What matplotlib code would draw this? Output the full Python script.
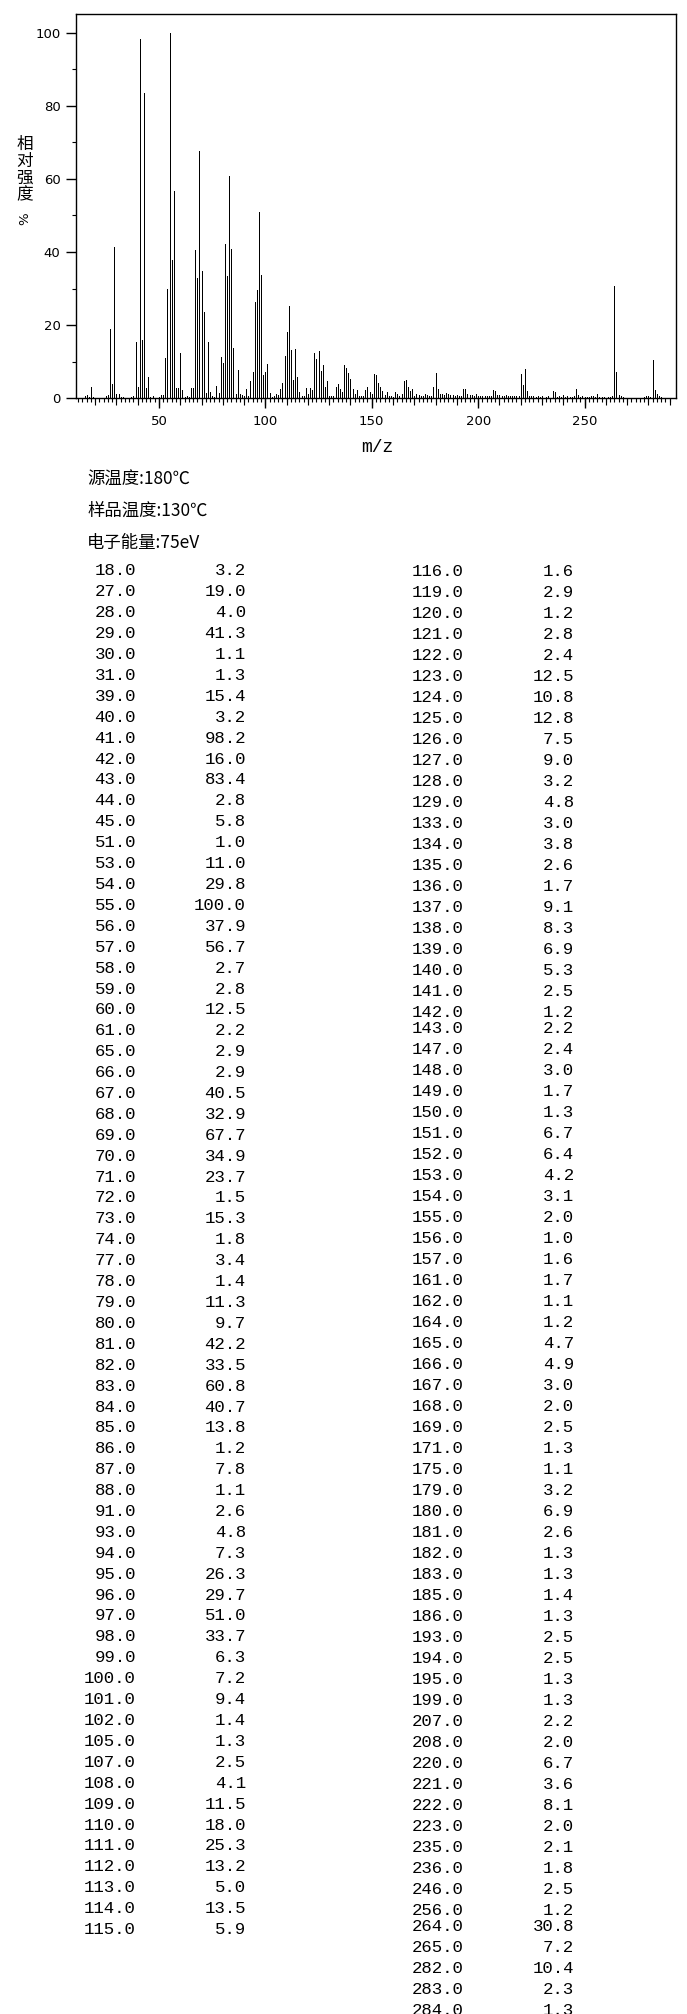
import matplotlib
matplotlib.use('Agg')
import matplotlib.pyplot as plt
import numpy as np

# peaks listed in the table (m/z, relative intensity %)
mz = [18, 27, 28, 29, 30, 31, 39, 40, 41, 42, 43, 44, 45, 51, 53, 54, 55, 56, 57, 58,
      59, 60, 61, 65, 66, 67, 68, 69, 70, 71, 72, 73, 74, 77, 78, 79, 80, 81, 82, 83,
      84, 85, 86, 87, 88, 91, 93, 94, 95, 96, 97, 98, 99, 100, 101, 102, 105, 107, 108, 109,
      110, 111, 112, 113, 114, 115,
      116, 119, 120, 121, 122, 123, 124, 125, 126, 127, 128, 129, 133, 134, 135, 136, 137, 138,
      139, 140, 141, 142, 143, 147, 148, 149, 150, 151, 152, 153, 154, 155, 156, 157, 161, 162,
      164, 165, 166, 167, 168, 169, 171, 175, 179, 180, 181, 182, 183, 185, 186, 193, 194, 195,
      199, 207, 208, 220, 221, 222, 223, 235, 236, 246, 256, 264, 265, 282, 283, 284]
inten = [3.2, 19.0, 4.0, 41.3, 1.1, 1.3, 15.4, 3.2, 98.2, 16.0, 83.4, 2.8, 5.8, 1.0, 11.0, 29.8, 100.0, 37.9, 56.7, 2.7,
         2.8, 12.5, 2.2, 2.9, 2.9, 40.5, 32.9, 67.7, 34.9, 23.7, 1.5, 15.3, 1.8, 3.4, 1.4, 11.3, 9.7, 42.2, 33.5, 60.8,
         40.7, 13.8, 1.2, 7.8, 1.1, 2.6, 4.8, 7.3, 26.3, 29.7, 51.0, 33.7, 6.3, 7.2, 9.4, 1.4, 1.3, 2.5, 4.1, 11.5,
         18.0, 25.3, 13.2, 5.0, 13.5, 5.9,
         1.6, 2.9, 1.2, 2.8, 2.4, 12.5, 10.8, 12.8, 7.5, 9.0, 3.2, 4.8, 3.0, 3.8, 2.6, 1.7, 9.1, 8.3,
         6.9, 5.3, 2.5, 1.2, 2.2, 2.4, 3.0, 1.7, 1.3, 6.7, 6.4, 4.2, 3.1, 2.0, 1.0, 1.6, 1.7, 1.1,
         1.2, 4.7, 4.9, 3.0, 2.0, 2.5, 1.3, 1.1, 3.2, 6.9, 2.6, 1.3, 1.3, 1.4, 1.3, 2.5, 2.5, 1.3,
         1.3, 2.2, 2.0, 6.7, 3.6, 8.1, 2.0, 2.1, 1.8, 2.5, 1.2, 30.8, 7.2, 10.4, 2.3, 1.3]
n_left = 66

# small peaks drawn on the plot but not in the table (estimated)
minor_mz = [15, 16, 17, 19, 20, 25, 26, 32, 33, 37, 38, 46, 47, 50, 52, 62, 63, 64, 75, 76,
            89, 90, 92, 103, 104, 106, 117, 118, 130, 131, 132, 144, 145, 146, 158, 159, 160, 163,
            170, 172, 173, 174, 176, 177, 178, 184, 187, 188, 189, 190, 191, 192, 196, 197, 198,
            200, 201, 202, 203, 204, 205, 206, 209, 210, 211, 212, 213, 214, 215, 216, 217, 218, 219,
            224, 225, 226, 227, 228, 229, 230, 232, 233, 237, 238, 239, 240, 241, 242, 243, 244, 245,
            247, 248, 249, 250, 251, 252, 253, 254, 255, 257, 258, 259, 261, 262, 263, 266, 267, 268,
            278, 279, 280, 281, 285, 286]
minor_int = [0.6, 0.9, 0.3, 0.3, 0.2, 0.6, 0.8, 0.4, 0.3, 0.4, 0.5, 0.3, 0.5, 0.3, 0.8, 0.4, 0.5, 0.4, 0.5, 0.3,
             0.9, 0.6, 0.6, 0.4, 0.5, 0.8, 0.5, 0.6, 0.7, 0.6, 0.5, 0.7, 0.6, 0.5, 0.6, 0.7, 0.4, 0.5,
             0.6, 0.9, 0.6, 0.5, 0.8, 0.6, 0.6, 0.9, 0.8, 0.9, 0.5, 0.8, 0.6, 0.5, 0.9, 0.8, 0.6,
             0.7, 0.6, 0.5, 0.7, 0.5, 0.6, 0.5, 0.8, 0.9, 0.7, 0.6, 0.8, 0.6, 0.5, 0.6, 0.5, 0.6, 0.5,
             0.6, 0.5, 0.6, 0.4, 0.5, 0.4, 0.5, 0.4, 0.5, 0.4, 0.5, 0.4, 0.8, 0.4, 0.5, 0.4, 0.4, 0.5,
             0.8, 0.4, 0.5, 0.4, 0.4, 0.3, 0.5, 0.6, 0.4, 0.4, 0.3, 0.4, 0.3, 0.4, 0.5, 0.8, 0.5, 0.3,
             0.4, 0.7, 0.5, 0.4, 0.5, 0.4]

header_lines = ['源温度:180℃', '样品温度:130℃', '电子能量:75eV']
y_major = [0, 20, 40, 60, 80, 100]
x_major = [50, 100, 150, 200, 250]

W, H = 687, 2014


def fx(x):
    return x / W


def fy(y):
    return 1 - y / H


fig = plt.figure(figsize=(W / 100, H / 100), dpi=100)
ax = fig.add_axes([fx(76), fy(398.3), 600 / W, 384 / H])

lw = 0.72
ax.vlines(minor_mz, 0, minor_int, color='black', linewidth=lw, antialiased=False)
ax.vlines(mz, 0, inten, color='black', linewidth=lw, antialiased=False)

ax.set_xlim(11, 293)
ax.set_ylim(0, 105)
for s in ax.spines.values():
    s.set_linewidth(1.0)

ax.set_yticks(y_major)
ax.set_yticks(np.arange(10, 100, 20), minor=True)
ax.set_xticks(x_major)
ax.set_xticks(np.arange(12, 292, 2), minor=True)
ax.tick_params(axis='both', which='major', direction='out', length=7.2, width=1.0,
               labelsize=9.5, pad=4)
ax.tick_params(axis='both', which='minor', direction='out', length=3.2, width=0.8)
ax.tick_params(axis='x', which='major', pad=5)

# medium ticks every 10 m/z
sec = ax.secondary_xaxis('bottom')
sec.set_xticks(np.arange(20, 291, 10))
sec.tick_params(direction='out', length=5, width=0.8, labelbottom=False)
sec.spines['bottom'].set_visible(False)

cjk = ['Noto Sans CJK SC', 'DejaVu Sans']
fig.text(fx(377), fy(447), 'm/z', family='Liberation Mono', fontsize=13,
         ha='center', va='center')
fig.text(fx(25), fy(170), '相\n对\n强\n度', family=cjk, fontsize=12,
         ha='center', va='center', linespacing=0.98)
fig.text(fx(25), fy(219), '%', family='DejaVu Sans', fontsize=9.5,
         ha='center', va='center', rotation=90)

for i, line in enumerate(header_lines):
    fig.text(fx(87), fy([480, 511, 543][i]), line, family=cjk, fontsize=12.5,
             ha='left', va='center')

mono = dict(family='Liberation Mono', fontsize=12.5, va='center')
for i in range(n_left):
    y = 571 + i * 20.9
    fig.text(fx(136), fy(y), f'{mz[i]:.1f}', ha='right', **mono)
    fig.text(fx(246), fy(y), f'{inten[i]:.1f}', ha='right', **mono)

for j in range(len(mz) - n_left):
    k = n_left + j
    y = 571.7 + j * 21.0
    if mz[k] >= 143:
        y -= 5.5
    if mz[k] >= 264:
        y -= 5.0
    fig.text(fx(464), fy(y), f'{mz[k]:.1f}', ha='right', **mono)
    fig.text(fx(574), fy(y), f'{inten[k]:.1f}', ha='right', **mono)

fig.savefig('out.png', dpi=100)
